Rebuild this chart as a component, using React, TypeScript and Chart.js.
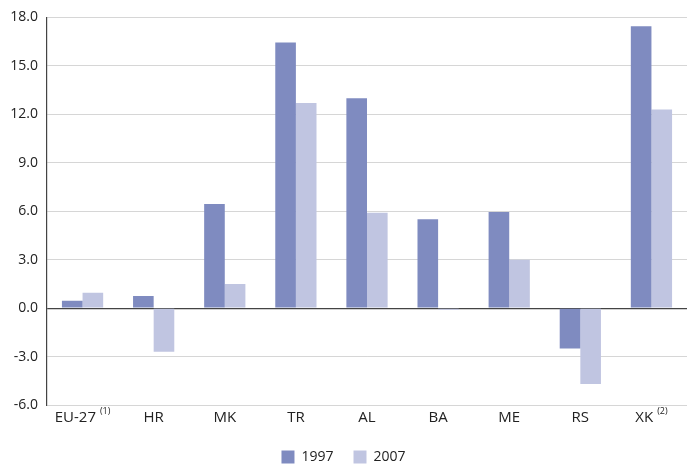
import React, { useEffect, useRef } from "react";
import { Chart, registerables } from "chart.js";

Chart.register(...registerables);

const categories = ["EU-27", "HR", "MK", "TR", "AL", "BA", "ME", "RS", "XK"];
const footnotes = ["(1)", "", "", "", "", "", "", "", "(2)"];
const values1997 = [0.45, 0.75, 6.45, 16.45, 13.0, 5.5, 5.95, -2.5, 17.45];
const values2007 = [0.95, -2.7, 1.5, 12.7, 5.9, -0.1, 3.0, -4.7, 12.3];
const seriesNames = ["1997", "2007"];

const FONT = "'Open Sans', 'Liberation Sans', sans-serif";

const labelPlugin = {
  id: "xLabelsWithNotes",
  afterDraw(chart: any) {
    const ctx = chart.ctx;
    const xScale = chart.scales.x;
    ctx.save();
    ctx.fillStyle = "#222";
    ctx.textBaseline = "alphabetic";
    categories.forEach((cat, i) => {
      const x = xScale.getPixelForValue(i);
      const y = chart.chartArea.bottom + 17;
      ctx.font = `15px ${FONT}`;
      const w = ctx.measureText(cat).width;
      ctx.font = `9px ${FONT}`;
      const note = footnotes[i];
      const nw = note ? ctx.measureText(note).width + 4 : 0;
      const start = x - (w + nw) / 2;
      ctx.font = `15px ${FONT}`;
      ctx.textAlign = "left";
      ctx.fillText(cat, start, y);
      if (note) {
        ctx.font = `9px ${FONT}`;
        ctx.fillText(note, start + w + 4, y - 8);
      }
    });
    ctx.restore();
  },
};

export default function App() {
  const ref = useRef<HTMLCanvasElement>(null);
  useEffect(() => {
    if (!ref.current) return;
    const chart = new Chart(ref.current, {
      type: "bar",
      data: {
        labels: categories,
        datasets: [
          {
            label: seriesNames[0],
            data: values1997,
            backgroundColor: "#7f8bc0",
            barPercentage: 1,
            categoryPercentage: 0.58,
          },
          {
            label: seriesNames[1],
            data: values2007,
            backgroundColor: "#c0c5e1",
            barPercentage: 1,
            categoryPercentage: 0.58,
          },
        ],
      },
      options: {
        animation: false,
        responsive: false,
        layout: { padding: { top: 12, right: 0, left: 0, bottom: -10 } },
        plugins: {
          legend: {
            position: "bottom",
            labels: {
              boxWidth: 13,
              boxHeight: 13,
              color: "#222",
              font: { family: FONT, size: 14 },
              padding: 20,
            },
          },
          tooltip: { enabled: false },
        },
        scales: {
          x: {
            grid: { display: false },
            border: { display: false },
            ticks: { display: false },
            afterFit: (s: any) => {
              s.height = 25;
            },
          },
          y: {
            min: -6,
            max: 18,
            afterFit: (s: any) => {
              s.width = 47;
            },
            ticks: {
              stepSize: 3,
              color: "#222",
              font: { family: FONT, size: 14 },
              padding: 9,
              callback: (v: any) => Number(v).toFixed(1),
            },
            grid: {
              drawTicks: false,
              color: (c: any) => (c.tick && c.tick.value === 0 ? "#444" : "#d6d6d6"),
              lineWidth: (c: any) => (c.tick && c.tick.value === 0 ? 1.2 : 1),
            },
            border: { display: true, color: "#444", width: 1.2 },
          },
        },
      },
      plugins: [labelPlugin],
    });
    return () => chart.destroy();
  }, []);
  return (
    <div style={{ position: "absolute", left: 0, top: 0, width: 687, height: 464, background: "#fff" }}>
      <canvas ref={ref} width={687} height={464} />
    </div>
  );
}
